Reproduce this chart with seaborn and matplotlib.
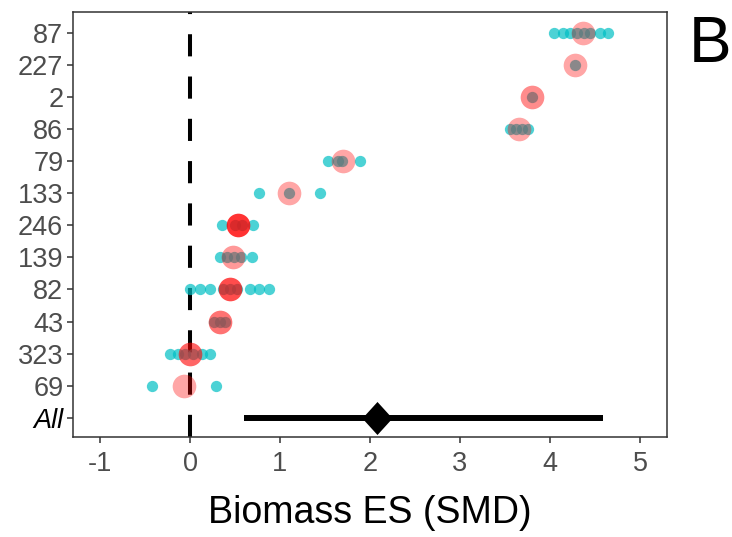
import numpy as np
import pandas as pd
import seaborn as sns
import matplotlib.pyplot as plt

# Study-level effect sizes (standardised mean difference of biomass)
study_ids = ["87", "227", "2", "86", "79", "133", "246", "139", "82", "43", "323", "69"]
effect_sizes = [
    [4.04, 4.14, 4.22, 4.30, 4.38, 4.44, 4.56, 4.64],
    [4.28],
    [3.80],
    [3.56, 3.62, 3.69, 3.76],
    [1.53, 1.64, 1.69, 1.89],
    [0.77, 1.10, 1.44],
    [0.36, 0.50, 0.58, 0.70],
    [0.33, 0.41, 0.49, 0.57, 0.69],
    [0.00, 0.11, 0.22, 0.37, 0.44, 0.52, 0.67, 0.77, 0.88],
    [0.27, 0.33, 0.39],
    [-0.22, -0.13, -0.06, 0.03, 0.13, 0.22],
    [-0.42, 0.29],
]
study_means = [4.37, 4.28, 3.80, 3.65, 1.70, 1.10, 0.53, 0.48, 0.44, 0.33, 0.00, -0.07]
study_weights = [0.35, 0.35, 0.45, 0.35, 0.35, 0.35, 0.80, 0.40, 0.70, 0.55, 0.60, 0.35]

overall_label = "All"
overall_es = 2.08
overall_ci = [0.60, 4.59]

# Long-form table of individual effect sizes
rows = []
for i, (sid, vals) in enumerate(zip(study_ids, effect_sizes)):
    for v in vals:
        rows.append({"study": sid, "row": i, "es": v})
es_df = pd.DataFrame(rows)
mean_df = pd.DataFrame({"study": study_ids, "row": np.arange(len(study_ids)),
                        "mean": study_means, "weight": study_weights})
all_row = len(study_ids)

sns.set_theme(style="white")
plt.rcParams["font.family"] = ["Liberation Sans", "DejaVu Sans"]

fig = plt.figure(figsize=(7.32, 5.37), dpi=100)
ax = fig.add_axes([73 / 732, 1 - 437 / 537, (667 - 73) / 732, (437 - 12) / 537])

# Zero reference line
ax.axvline(0, color="black", lw=2.9, dashes=(5.5, 5.0), zorder=1)

# Individual effect sizes
sns.scatterplot(data=es_df, x="es", y="row", color="#00BFC4", alpha=0.7,
                s=66, linewidth=0, ax=ax, legend=False, zorder=2)

# Study means, opacity by study weight
for _, r in mean_df.iterrows():
    sns.scatterplot(x=[r["mean"]], y=[r["row"]], color="red", alpha=r["weight"],
                    s=290, linewidth=0, ax=ax, legend=False, zorder=3)

# Overall estimate with confidence interval
ax.hlines(all_row, overall_ci[0], overall_ci[1], color="black", lw=4.3, zorder=4)
diamond = [(0, 1), (0.91, 0), (0, -1), (-0.91, 0), (0, 1)]
sns.scatterplot(x=[overall_es], y=[all_row], marker=diamond, color="black",
                s=566, linewidth=0, ax=ax, legend=False, zorder=5)

ax.set_xlim(-1.3, 5.3)
ax.set_ylim(all_row + 0.6, -0.65)
ax.set_xticks(range(-1, 6))
ax.set_xticklabels([str(t) for t in range(-1, 6)])
ax.set_yticks(range(all_row + 1))
ax.set_yticklabels(study_ids + [overall_label])

for sp in ax.spines.values():
    sp.set_color("#333333")
    sp.set_linewidth(1.1)
ax.tick_params(axis="both", which="major", bottom=True, left=True, direction="out",
               length=4, width=1.1, color="#333333", labelsize=19.5, labelcolor="#4d4d4d")
ax.tick_params(axis="y", pad=3)
ax.tick_params(axis="x", pad=6)
all_lab = ax.get_yticklabels()[-1]
all_lab.set_fontstyle("italic")
all_lab.set_color("black")

ax.set_xlabel("Biomass ES (SMD)", fontsize=27, color="black", labelpad=13)
ax.set_ylabel("")

fig.text(0.970, 0.916, "B", fontsize=46, ha="center", va="center", color="black")

fig.savefig("out.png", dpi=100)
